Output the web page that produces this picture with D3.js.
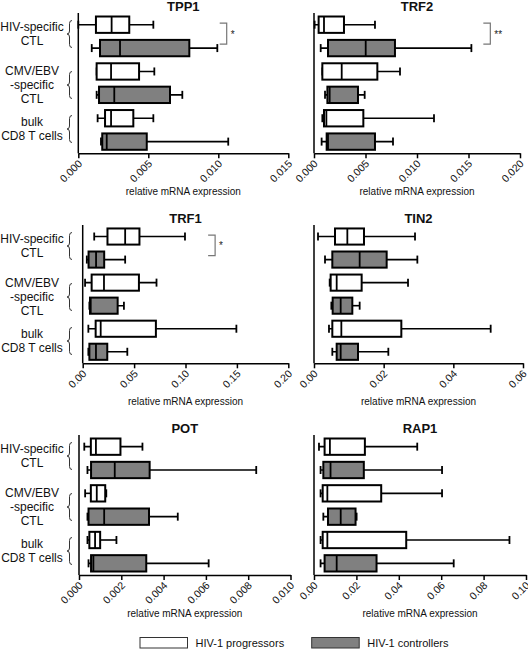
<!DOCTYPE html>
<html><head><meta charset="utf-8">
<script src="https://cdn.jsdelivr.net/npm/d3@7"></script>
<style>
body{margin:0;background:#fff}
svg{display:block}
text{font-family:"Liberation Sans",Arial,Helvetica,sans-serif;fill:#111}
</style>
</head><body><svg id="c" width="528" height="651"></svg>
<script>
// ---------- DATA ----------
const categories = ["HIV-specific CTL", "CMV/EBV-specific CTL", "bulk CD8 T cells"];
const categoryLines = [["HIV-specific", "CTL"], ["CMV/EBV", "-specific", "CTL"], ["bulk", "CD8 T cells"]];
const groups = ["HIV-1 progressors", "HIV-1 controllers"];
const groupColors = ["#ffffff", "#808080"];
const xTitle = "relative mRNA expression";

// rows: HIV prog, HIV ctrl, CMV/EBV prog, CMV/EBV ctrl, bulk prog, bulk ctrl
// each row: [min, q1, median, q3, max]
const tpp1 = [
  [0.00000, 0.00126, 0.00238, 0.00364, 0.00536],
  [0.00096, 0.00155, 0.00298, 0.00793, 0.00993],
  [0.00131, 0.00131, 0.00234, 0.00434, 0.00543],
  [0.00131, 0.00148, 0.00257, 0.00655, 0.00743],
  [0.00138, 0.00191, 0.00234, 0.00393, 0.00536],
  [0.00162, 0.00171, 0.00203, 0.00489, 0.01071]
];
const trf2 = [
  [0.00006, 0.00045, 0.00097, 0.00291, 0.00592],
  [0.00065, 0.00136, 0.00502, 0.00786, 0.01528],
  [0.00081, 0.00081, 0.00269, 0.00615, 0.00835],
  [0.00107, 0.00130, 0.00152, 0.00427, 0.00492],
  [0.00081, 0.00097, 0.00120, 0.00479, 0.01165],
  [0.00074, 0.00123, 0.00136, 0.00592, 0.00767]
];
const trf1 = [
  [0.0112, 0.0241, 0.0413, 0.0552, 0.0995],
  [0.0040, 0.0057, 0.0130, 0.0209, 0.0413],
  [0.0023, 0.0087, 0.0207, 0.0547, 0.0718],
  [0.0065, 0.0071, 0.0078, 0.0340, 0.0401],
  [0.0055, 0.0126, 0.0175, 0.0712, 0.1495],
  [0.0055, 0.0065, 0.0129, 0.0239, 0.0434]
];
const tin2 = [
  [0.00115, 0.00603, 0.00957, 0.01435, 0.02900],
  [0.00316, 0.00526, 0.01311, 0.02086, 0.02967],
  [0.00450, 0.00478, 0.00651, 0.01368, 0.02699],
  [0.00498, 0.00536, 0.00766, 0.01100, 0.01311],
  [0.00430, 0.00526, 0.00785, 0.02507, 0.05072],
  [0.00526, 0.00651, 0.00766, 0.01263, 0.02134]
];
const pot = [
  [0.00025, 0.00056, 0.00080, 0.00196, 0.00300],
  [0.00040, 0.00057, 0.00169, 0.00334, 0.00838],
  [0.00029, 0.00056, 0.00084, 0.00124, 0.00129],
  [0.00040, 0.00045, 0.00119, 0.00331, 0.00467],
  [0.00040, 0.00049, 0.00076, 0.00100, 0.00177],
  [0.00045, 0.00057, 0.00068, 0.00318, 0.00613]
];
const rap1 = [
  [0.00235, 0.0050, 0.0075, 0.0240, 0.0487],
  [0.0031, 0.0044, 0.0078, 0.0235, 0.0604],
  [0.0031, 0.0041, 0.0063, 0.0317, 0.0604],
  [0.0044, 0.0066, 0.0126, 0.0196, 0.0201],
  [0.0031, 0.0041, 0.0063, 0.0435, 0.0922],
  [0.0031, 0.0050, 0.0107, 0.0295, 0.0659]
];

const tpp1Ticks = [0, 0.005, 0.010, 0.015];
const trf2Ticks = [0, 0.005, 0.010, 0.015, 0.020];
const trf1Ticks = [0, 0.05, 0.10, 0.15, 0.20];
const tin2Ticks = [0, 0.02, 0.04, 0.06];
const potTicks  = [0, 0.002, 0.004, 0.006, 0.008, 0.010];
const rap1Ticks = [0, 0.02, 0.04, 0.06, 0.08, 0.10];

// significance brackets (x in data units)
const sigGenes  = ["TPP1", "TRF2", "TRF1"];
const sigX      = [0.0101, 0.01644, 0.122];
const sigLabels = ["*", "**", "*"];

// ---------- LAYOUT ----------
const panels = [
  {gene:"TPP1", stats:tpp1, ticks:tpp1Ticks, dec:3, x0:78.3, x1:288.3, top:13,  bottom:153.3, labels:true},
  {gene:"TRF2", stats:trf2, ticks:trf2Ticks, dec:3, x0:314,  x1:520,   top:13,  bottom:153.3, labels:false},
  {gene:"TRF1", stats:trf1, ticks:trf1Ticks, dec:2, x0:82.7, x1:288.3, top:225, bottom:363.3, labels:true},
  {gene:"TIN2", stats:tin2, ticks:tin2Ticks, dec:2, x0:314,  x1:523,   top:225, bottom:363.3, labels:false},
  {gene:"POT",  stats:pot,  ticks:potTicks,  dec:3, x0:79,   x1:290.5, top:435, bottom:575,   labels:true},
  {gene:"RAP1", stats:rap1, ticks:rap1Ticks, dec:2, x0:314,  x1:526,   top:435, bottom:575,   labels:false}
];
const labelOffsets = [21, 72, 116];

const svg = d3.select("#c");

panels.forEach(p => {
  const g = svg.append("g");
  const x = d3.scaleLinear().domain([0, p.ticks[p.ticks.length - 1]]).range([p.x0, p.x1]);
  const y = d3.scaleBand().domain(d3.range(p.stats.length)).range([p.top, p.bottom])
              .paddingInner(0.3).paddingOuter(0.15);
  const bw = y.bandwidth();

  // title
  g.append("text").attr("x", (p.x0 + p.x1) / 2).attr("y", p.top - 2.5)
    .attr("text-anchor", "middle").style("font-size", "13px").style("font-weight", "bold")
    .text(p.gene);

  // boxes
  const rows = g.selectAll("g.row").data(p.stats).join("g").attr("class", "row");
  rows.each(function(d, i) {
    const r = d3.select(this);
    const cy = y(i) + bw / 2;
    r.append("line").attr("x1", x(d[0])).attr("x2", x(d[4])).attr("y1", cy).attr("y2", cy)
      .attr("stroke", "#000").attr("stroke-width", 1.6);
    [d[0], d[4]].forEach(v => r.append("line").attr("x1", x(v)).attr("x2", x(v))
      .attr("y1", cy - 4).attr("y2", cy + 4).attr("stroke", "#000").attr("stroke-width", 1.8));
    r.append("rect").attr("x", x(d[1])).attr("y", y(i)).attr("width", Math.max(0, x(d[3]) - x(d[1])))
      .attr("height", bw).attr("fill", groupColors[i % 2]).attr("stroke", "#000").attr("stroke-width", 2);
    r.append("line").attr("x1", x(d[2])).attr("x2", x(d[2])).attr("y1", y(i)).attr("y2", y(i) + bw)
      .attr("stroke", "#000").attr("stroke-width", 1.8);
  });

  // y axis line
  g.append("line").attr("x1", p.x0).attr("x2", p.x0).attr("y1", p.top).attr("y2", p.bottom)
    .attr("stroke", "#000").attr("stroke-width", 1.5);

  // x axis
  const ax = g.append("g").attr("transform", `translate(0,${p.bottom})`)
    .call(d3.axisBottom(x).tickValues(p.ticks).tickFormat(d3.format(`.${p.dec}f`)).tickSize(5).tickSizeOuter(0));
  ax.select(".domain").attr("stroke", "#000").attr("stroke-width", 1.5);
  ax.selectAll(".tick line").attr("stroke", "#000").attr("stroke-width", 1.5);
  ax.selectAll(".tick text").attr("dy", null).attr("y", null)
    .attr("text-anchor", "end").attr("transform", "translate(4,11) rotate(-45)")
    .style("font-size", "10.5px").style("font-family", "'Liberation Sans',Arial,sans-serif").attr("fill", "#222");

  g.append("text").attr("x", (p.x0 + p.x1) / 2).attr("y", p.bottom + 42)
    .attr("text-anchor", "middle").style("font-size", "10px").text(xTitle);

  // significance
  const si = sigGenes.indexOf(p.gene);
  if (si >= 0) {
    const bx = x(sigX[si]);
    const ya = y(0) + bw / 2 - 1.5, yb = y(1) + bw / 2 - 4;
    g.append("path").attr("d", `M${bx},${ya}H${bx + 7}V${yb}H${bx}`)
      .attr("fill", "none").attr("stroke", "#777").attr("stroke-width", 1.2);
    g.append("text").attr("x", bx + 11).attr("y", (ya + yb) / 2 + 4)
      .style("font-size", "10px").style("fill", "#222").text(sigLabels[si]);
  }

  // category labels with braces
  if (p.labels) {
    categoryLines.forEach((lines, k) => {
      const c = p.top + labelOffsets[k];
      const n = lines.length;
      lines.forEach((t, j) => {
        g.append("text").attr("x", 32).attr("y", c + (j - (n - 1) / 2) * 14 + 4.3)
          .attr("text-anchor", "middle").style("font-size", "12px").text(t);
      });
      const h = 13.5, bx = 72, mx = 69.5, tip = 67;
      g.append("path").attr("d",
        `M${bx},${c - h}Q${mx},${c - h},${mx},${c - h + 3}L${mx},${c - 3}Q${mx},${c},${tip},${c}` +
        `Q${mx},${c},${mx},${c + 3}L${mx},${c + h - 3}Q${mx},${c + h},${bx},${c + h}`)
        .attr("fill", "none").attr("stroke", "#333").attr("stroke-width", 1);
    });
  }
});

// legend
const legX = [140, 311.7];
groups.forEach((name, i) => {
  svg.append("rect").attr("x", legX[i]).attr("y", 637.5).attr("width", 47.5).attr("height", 10.5)
    .attr("fill", groupColors[i]).attr("stroke", "#333").attr("stroke-width", 1);
  svg.append("text").attr("x", legX[i] + 55.5).attr("y", 646.5)
    .style("font-size", "11px").text(name);
});
</script>
</body></html>
